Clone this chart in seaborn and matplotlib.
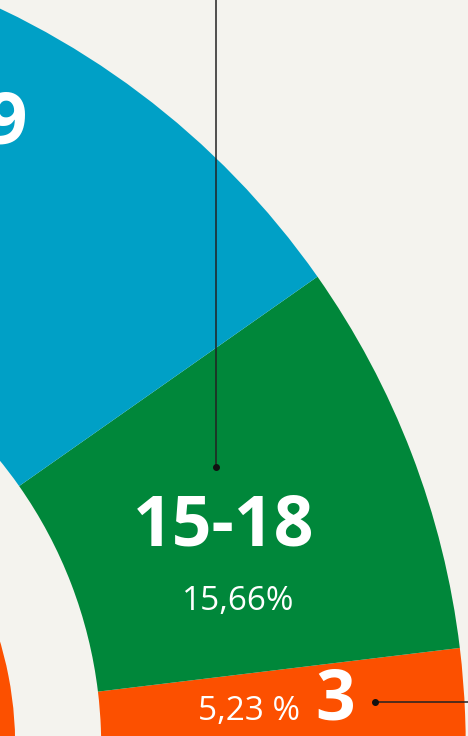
import numpy as np
import matplotlib
matplotlib.use("Agg")
import matplotlib.pyplot as plt
import seaborn as sns

# ── Data (share of a half donut, in %) ───────────────────────────────────────
groups   = ["3", "15-18", "19"]
shares   = [5.23, 15.66, 40.0]
share_labels = ["5,23 %", "15,66%", ""]
inner_share = [15.0]

# ── Style ────────────────────────────────────────────────────────────────────
BG     = "#F4F3EE"
COLORS = ["#FC5000", "#00873A", "#00A0C6"]

sns.set_theme(style="white")
plt.rcParams["font.family"] = ["Open Sans", "DejaVu Sans"]

W, H = 468, 736
fig = plt.figure(figsize=(W / 100, H / 100), dpi=100, facecolor=BG)
ax = fig.add_axes([0, 0, 1, 1])
ax.set_facecolor(BG)

# centre of the donut sits just outside the picture (pixel units, y up)
cx, cy = -350.8, H - 745.8
R_OUT, R_IN = 816.5, 452.0
START = -2.53

fracs = [s / 200 for s in shares]   # 100 % = half circle
ax.pie(fracs, colors=COLORS, startangle=START, counterclock=True,
       radius=R_OUT, center=(cx, cy), normalize=False, frame=True,
       wedgeprops=dict(width=R_OUT - R_IN, linewidth=0, antialiased=True))

# inner ring, only a sliver of it is visible
ax.pie([s / 200 for s in inner_share], colors=[COLORS[0]], startangle=START,
       radius=366, center=(cx, cy), normalize=False, frame=True,
       wedgeprops=dict(width=140, linewidth=0))

ax.set_xlim(0, W)
ax.set_ylim(0, H)
ax.set_aspect("equal")
ax.axis("off")


def py(y):
    return H - y


# labels
ax.text(224, py(527), groups[1], color="white", fontsize=50, fontweight="bold",
        ha="center", va="center")
ax.text(238, py(601), share_labels[1], color="white", fontsize=24,
        ha="center", va="center")
ax.text(335, py(701), groups[0], color="white", fontsize=50, fontweight="bold",
        ha="center", va="center")
ax.text(249, py(711), share_labels[0], color="white", fontsize=24,
        ha="center", va="center")
ax.text(28, py(125), groups[2], color="white", fontsize=52, fontweight="bold",
        ha="right", va="center")

# leader lines
ax.plot([215.7, 215.7], [py(0), py(467)], color="#222222", lw=1.1)
ax.plot([215.7], [py(467)], "o", color="#111111", ms=4)
ax.plot([375, W], [py(702), py(702)], color="#222222", lw=1.1)
ax.plot([375], [py(702)], "o", color="#111111", ms=4)

fig.savefig("out.png", dpi=100, facecolor=BG)
